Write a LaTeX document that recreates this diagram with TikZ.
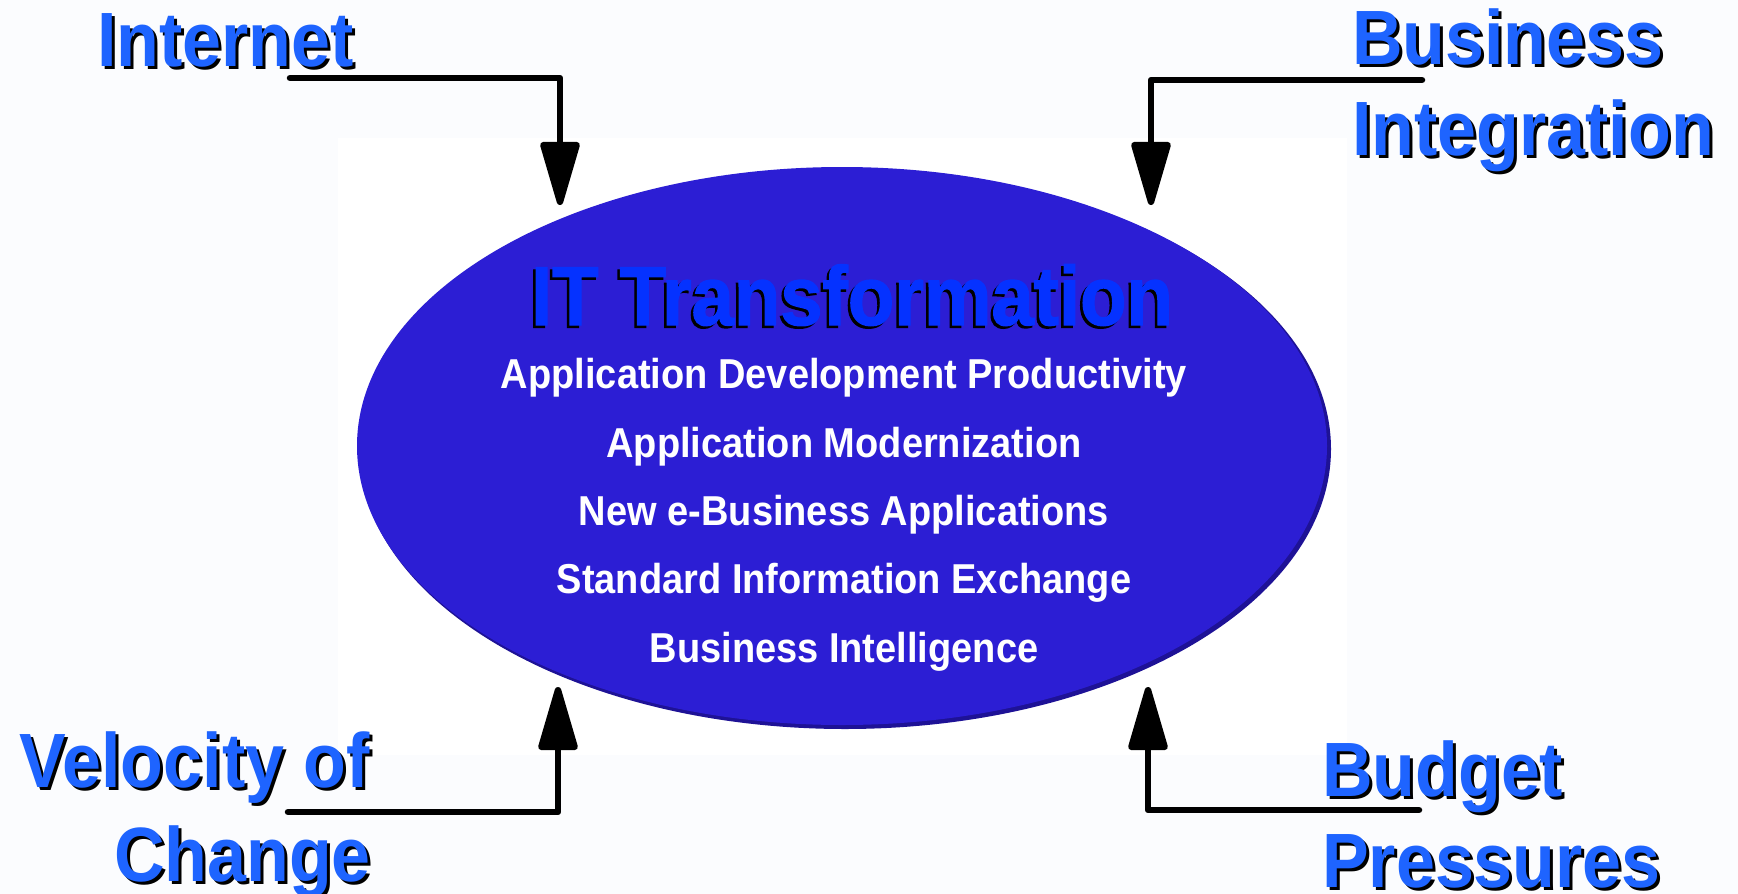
\documentclass[tikz,border=0pt]{standalone}
\usepackage{fontspec}
\usepackage{graphicx}
\setmainfont{Liberation Sans}
\newfontfamily\ttlfont[FakeBold=1.6]{Liberation Sans Bold}
\usetikzlibrary{arrows.meta,shapes.geometric}
\definecolor{lblblue}{RGB}{30,100,255}
\definecolor{ttlblue}{RGB}{5,50,255}
\definecolor{ellblue}{RGB}{44,30,212}
\definecolor{ellshadow}{RGB}{30,18,150}
\definecolor{bgcol}{RGB}{251,252,254}
\newcommand{\tallbox}[1]{\scalebox{1}[1.1]{#1}}
\tikzset{
  lbl/.style={text=lblblue, font=\fontsize{70}{84}\selectfont\bfseries, inner sep=0pt},
  lblshadow/.style={text=black, font=\fontsize{70}{84}\selectfont\bfseries, inner sep=0pt},
  ttl/.style={text=ttlblue, font=\fontsize{76}{90}\ttlfont, inner sep=0pt, anchor=base},
  ttlshadow/.style={text=black, font=\fontsize{76}{90}\ttlfont, inner sep=0pt, anchor=base},
  item/.style={text=white, font=\fontsize{38}{46}\selectfont\bfseries, inner sep=0pt, anchor=base},
  conn/.style={line width=6.5pt, line join=round, line cap=round, -{Triangle[width=40pt,length=72pt,round]}},
}
\begin{document}
\begin{tikzpicture}[x=1pt,y=-1pt]
\useasboundingbox (0,0) rectangle (1738,894);
\fill[bgcol] (0,0) rectangle (1738,894);
\fill[white] (338,138) rectangle (1347,755);

% ellipse
\node[ellipse, fill=ellshadow, minimum width=972pt, minimum height=560pt, inner sep=0pt] (ellsh) at (845,449) {};
\node[ellipse, fill=ellblue, minimum width=970pt, minimum height=558pt, inner sep=0pt] (ell) at (842,446) {};

% title
\node[ttlshadow] (titlesh) at (849.5,327.5) {\tallbox{IT Transformation}};
\node[ttl] (title) at (852,325) {\tallbox{IT Transformation}};

% items
\node[item] (item1) at (844,388) {\tallbox{Application Development Productivity}};
\node[item] (item2) at (844,457) {\tallbox{Application Modernization}};
\node[item] (item3) at (844,525) {\tallbox{New e-Business Applications}};
\node[item] (item4) at (844,593) {\tallbox{Standard Information Exchange}};
\node[item] (item5) at (844,662) {\tallbox{Business Intelligence}};

% labels
\node[lblshadow, anchor=base west] (internetsh) at (100,69) {\tallbox{Internet}};
\node[lbl, anchor=base west] (internet) at (97,66) {\tallbox{Internet}};

\node[lblshadow, anchor=base west] (business1sh) at (1355,67) {\tallbox{Business}};
\node[lbl, anchor=base west] (business1) at (1352,64) {\tallbox{Business}};
\node[lblshadow, anchor=base west] (business2sh) at (1355,158) {\tallbox{Integration}};
\node[lbl, anchor=base west] (business2) at (1352,155) {\tallbox{Integration}};

\node[lblshadow, anchor=base east] (velocity1sh) at (373,790) {\tallbox{Velocity of}};
\node[lbl, anchor=base east] (velocity1) at (370,787) {\tallbox{Velocity of}};
\node[lblshadow, anchor=base east] (velocity2sh) at (374,884) {\tallbox{Change}};
\node[lbl, anchor=base east] (velocity2) at (371,881) {\tallbox{Change}};

\node[lblshadow, anchor=base west] (budget1sh) at (1325,799) {\tallbox{Budget}};
\node[lbl, anchor=base west] (budget1) at (1322,796) {\tallbox{Budget}};
\node[lblshadow, anchor=base west] (budget2sh) at (1325,890) {\tallbox{Pressures}};
\node[lbl, anchor=base west] (budget2) at (1322,887) {\tallbox{Pressures}};

% connectors
\coordinate (internetstart) at (290,78);
\coordinate (internettip) at (560,205);
\coordinate (businessstart) at (1422,80);
\coordinate (businesstip) at (1151,205);
\coordinate (velocitystart) at (288,812);
\coordinate (velocitytip) at (558,687);
\coordinate (budgetstart) at (1419,810);
\coordinate (budgettip) at (1148,687);

\draw[conn] (internetstart) -| (internettip);
\draw[conn] (businessstart) -| (businesstip);
\draw[conn] (velocitystart) -| (velocitytip);
\draw[conn] (budgetstart) -| (budgettip);
\end{tikzpicture}
\end{document}
